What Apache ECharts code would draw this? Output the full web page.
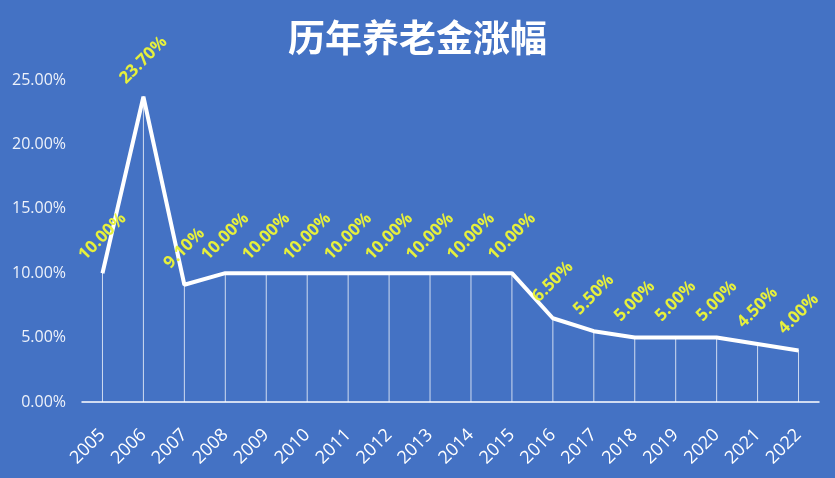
<!DOCTYPE html>
<html><head><meta charset="utf-8">
<script src="https://cdn.jsdelivr.net/npm/echarts@6/dist/echarts.min.js"></script>
<style>html,body{margin:0;padding:0;background:#4472C4;}#c{width:835px;height:478px;}</style>
</head><body><div id="c"></div>
<script>
const years = ['2005','2006','2007','2008','2009','2010','2011','2012','2013','2014','2015','2016','2017','2018','2019','2020','2021','2022'];
const increase = [10.0, 23.7, 9.1, 10.0, 10.0, 10.0, 10.0, 10.0, 10.0, 10.0, 10.0, 6.5, 5.5, 5.0, 5.0, 5.0, 4.5, 4.0];
const yTicks = [0, 5, 10, 15, 20, 25];

const chart = echarts.init(document.getElementById('c'));
chart.setOption({
  backgroundColor: '#4472C4',
  animation: false,
  title: {
    text: '历年养老金涨幅', left: 'center', top: 14,
    textStyle: { color: '#ffffff', fontSize: 37, fontWeight: 'bold', fontFamily: 'Noto Sans CJK SC' }
  },
  grid: { left: 82, right: 16, top: 80, bottom: 76 },
  xAxis: {
    type: 'category', data: years, boundaryGap: true,
    axisLine: { lineStyle: { color: '#ffffff', width: 1.5 } },
    axisTick: { show: false },
    axisLabel: { color: '#ffffff', fontSize: 18, rotate: 45, margin: 30, fontFamily: 'Open Sans' }
  },
  yAxis: {
    type: 'value', min: yTicks[0], max: yTicks[yTicks.length - 1], interval: 5,
    axisLine: { show: false }, axisTick: { show: false }, splitLine: { show: false },
    axisLabel: { color: '#EEF2FA', fontSize: 16, margin: 16, fontFamily: 'Open Sans',
      formatter: v => v.toFixed(2) + '%' }
  },
  series: [
    {
      type: 'bar', data: increase, barWidth: 1, silent: true,
      itemStyle: { color: 'rgba(255,255,255,0.75)' }
    },
    {
      type: 'line', data: increase, symbol: 'circle', symbolSize: 1, showSymbol: true,
      itemStyle: { color: '#ffffff' },
      lineStyle: { color: '#ffffff', width: 4 },
      labelLayout: { hideOverlap: false },
      label: {
        show: true, position: 'top', distance: 36, rotate: 45,
        align: 'center', verticalAlign: 'middle',
        color: '#E6F03C', fontSize: 17, fontWeight: 'bold', fontFamily: 'Open Sans',
        formatter: p => p.value.toFixed(2) + '%'
      }
    }
  ]
});
</script></body></html>
